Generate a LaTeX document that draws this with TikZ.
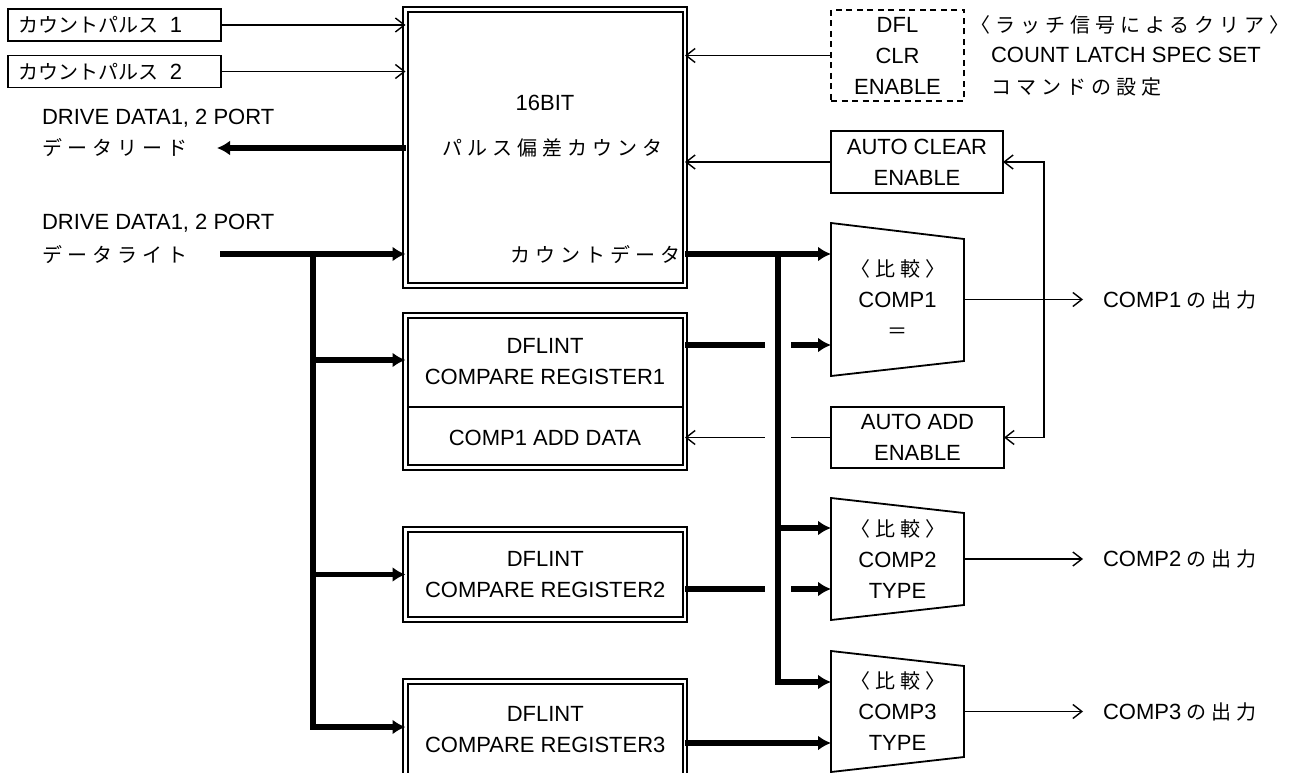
\documentclass[tikz,border=0pt]{standalone}
\usepackage{fontspec}
\setmainfont{Liberation Sans}
\newfontfamily\jpfont{Noto Sans CJK JP}
\newfontfamily\jpsfont{Noto Sans CJK JP}[LetterSpace=25]
\usetikzlibrary{arrows.meta}
\newcommand{\JP}[1]{{\fontsize{20}{31}\jpfont #1}}
\newcommand{\JPS}[1]{{\fontsize{20}{31}\jpsfont #1}}
\begin{document}
\begin{tikzpicture}[x=1pt,y=-1pt,
  thinline/.style={line width=1.8pt},
  thinarr/.style={line width=1.8pt,-{Straight Barb[length=9pt,width=14pt,line width=1.4pt]}},
  thickline/.style={line width=5.5pt},
  thickarr/.style={line width=5.5pt,-{Latex[length=13pt,width=15pt]}},
  box/.style={draw,line width=1.8pt,inner sep=0pt,outer sep=0pt,align=center,font=\fontsize{22}{31}\selectfont},
  dbox/.style={draw,double,double distance=2.2pt,line width=2.2pt,inner sep=0pt,outer sep=0pt,align=center,font=\fontsize{22}{31}\selectfont},
  txt/.style={inner sep=0pt,outer sep=0pt,font=\fontsize{22}{31}\selectfont,align=left},
  cmp/.style={inner sep=0pt,outer sep=0pt,align=center,font=\fontsize{22}{31}\selectfont},
  trap/.style={line width=1.8pt},
]
\useasboundingbox (0,0) rectangle (1296,773);
\clip (0,0) rectangle (1296,773);

% input boxes
\node[box,anchor=west,inner xsep=10pt,text width=193pt,align=left,minimum height=32pt] (in1) at (8,25) {\JP{カウントパルス}\hspace{12pt}1};
\node[box,anchor=west,inner xsep=10pt,text width=193pt,align=left,minimum height=32pt] (in2) at (8,71.5) {\JP{カウントパルス}\hspace{12pt}2};

% main counter
\node[dbox,minimum width=279.5pt,minimum height=276pt] (cnt) at (545.25,147.5) {};
\node[txt] (t16) at (545,103) {16BIT};
\node[txt] (tpc) at (552.5,148) {\JPS{パルス偏差カウンタ}};
\node[txt,anchor=east] (tcd) at (680,255) {\JPS{カウントデータ}};

% DFL
\node[box,dash pattern=on 6pt off 4.5pt,line width=1.6pt,minimum width=133pt,minimum height=91pt] (dfl) at (897.5,55.5) {DFL\\CLR\\ENABLE};
\node[txt,anchor=west] (lt1) at (970,25) {\JPS{〈ラッチ信号によるクリア〉}};
\node[txt,anchor=west] (lt2) at (991,55) {COUNT LATCH SPEC SET};
\node[txt,anchor=west] (lt3) at (991,87) {\JPS{コマンドの設定}};

% auto boxes
\node[box,minimum width=172pt,minimum height=62pt] (aclr) at (917,162) {AUTO CLEAR\\ENABLE};
\node[box,minimum width=173pt,minimum height=61pt] (aadd) at (917.5,437.5) {AUTO ADD\\ENABLE};

% left texts
\node[txt,anchor=west] (dd1) at (42,118) {DRIVE DATA1, 2 PORT};
\node[txt,anchor=west] (rd) at (42,148) {\JPS{データリード}};
\node[txt,anchor=west] (dd2) at (42,223) {DRIVE DATA1, 2 PORT};
\node[txt,anchor=west] (wrt) at (42,255) {\JPS{データライト}};
\coordinate (rdtip) at (217,148);
\coordinate (wr0) at (220,254);

% registers
\node[dbox,minimum width=279.5pt,minimum height=152pt] (r1) at (545.25,391.5) {};
\node[txt,align=center] (r1t) at (545,362) {DFLINT\\COMPARE REGISTER1};
\node[txt] (r1b) at (545,438) {COMP1 ADD DATA};
\coordinate (dv) at (545,407);
\draw[line width=1.8pt,shorten <=2.2pt,shorten >=2.2pt] (r1.west |- dv) -- (r1.east |- dv);
\node[dbox,minimum width=279.5pt,minimum height=90pt] (r2) at (545.25,574.5) {DFLINT\\COMPARE REGISTER2};
\node[dbox,minimum width=279.5pt,minimum height=95.5pt] (r3) at (545.25,729.25) {DFLINT\\COMPARE REGISTER3};

% comparators
\node[cmp,minimum width=133pt,minimum height=153pt] (c1) at (897.5,299.5) {\JPS{〈比較〉}\\COMP1\\\JP{＝}};
\draw[trap] (c1.north west) -- ([yshift=-16pt]c1.north east) -- ([yshift=15pt]c1.south east) -- (c1.south west) -- cycle;
\node[cmp,minimum width=133pt,minimum height=122pt] (c2) at (897.5,559) {\JPS{〈比較〉}\\COMP2\\TYPE};
\draw[trap] (c2.north west) -- ([yshift=-15pt]c2.north east) -- ([yshift=15pt]c2.south east) -- (c2.south west) -- cycle;
\node[cmp,minimum width=133pt,minimum height=121pt] (c3) at (897.5,711.5) {\JPS{〈比較〉}\\COMP3\\TYPE};
\draw[trap] (c3.north west) -- ([yshift=-15pt]c3.north east) -- ([yshift=15pt]c3.south east) -- (c3.south west) -- cycle;

% outputs
\node[txt,anchor=west] (o1) at (1103,299.5) {COMP1\hspace{5pt}\JPS{の出力}};
\node[txt,anchor=west] (o2) at (1103,559) {COMP2\hspace{5pt}\JPS{の出力}};
\node[txt,anchor=west] (o3) at (1103,711.5) {COMP3\hspace{5pt}\JPS{の出力}};
\draw[thinarr] (c1.east) -- ([xshift=-20pt]o1.west);
\draw[thinarr] (c2.east) -- ([xshift=-20pt]o2.west);
\draw[thinarr] (c3.east) -- ([xshift=-20pt]o3.west);

% thin connectors
\draw[thinarr] (in1.east) -- (in1.east -| cnt.west);
\draw[thinarr] (in2.east) -- (in2.east -| cnt.west);
\draw[thinarr] (dfl.west) -- (dfl.west -| cnt.east);
\draw[thinarr] (aclr.west) -- (aclr.west -| cnt.east);
\coordinate (bk) at (1044,299.5);
\draw[thinline,{Straight Barb[length=9pt,width=14pt,line width=1.4pt]}-{Straight Barb[length=9pt,width=14pt,line width=1.4pt]}] (aclr.east) -| (bk) |- (aadd.east);

% data read / write
\draw[thickarr] (cnt.west |- rdtip) -- (rdtip);
\draw[thickarr] (wr0) -- (wr0 -| cnt.west);
\coordinate (lb) at (313,254);
\draw[thickarr] (lb) |- (r3.west |- 0,727);
\draw[thickarr] (lb |- 0,360) -- (r1.west |- 0,360);
\draw[thickarr] (lb |- r2.west) -- (r2.west);

% lines crossing the right bus
\draw[thickarr] (r1.east |- 0,345) -- (c1.west |- 0,345);
\draw[thickarr] (r2.east |- 0,589) -- (c2.west |- 0,589);
\draw[thickarr] (r3.east |- 0,743) -- (c3.west |- 0,743);
\draw[thinarr] (aadd.west) -- (aadd.west -| r1.east);

% right bus with gap halo
\coordinate (rb) at (778,254);
\draw[white,line width=26pt] (778,270) -- (778,670);
\draw[thickarr] (cnt.east |- rb) -- (c1.west |- rb);
\draw[thickarr] (rb) |- (c3.west |- 0,682);
\draw[thickarr] (rb |- 0,528) -- (c2.west |- 0,528);
\end{tikzpicture}
\end{document}
